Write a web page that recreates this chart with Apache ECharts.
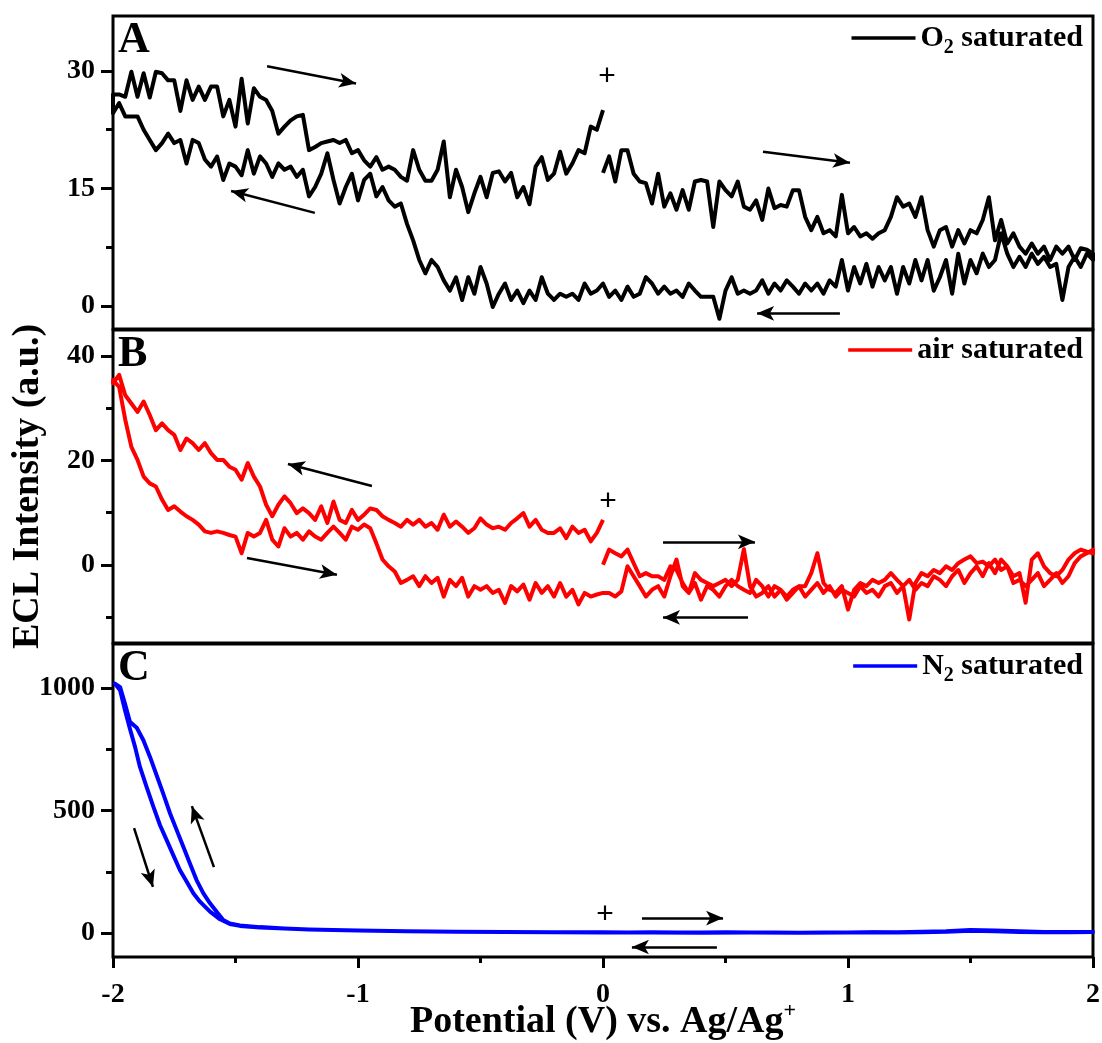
<!DOCTYPE html>
<html>
<head>
<meta charset="utf-8">
<script src="https://cdn.jsdelivr.net/npm/echarts@6/dist/echarts.min.js"></script>
<style>
  html, body { margin: 0; padding: 0; background: #fff; }
  #chart { width: 1102px; height: 1043px; }
</style>
</head>
<body>
<div id="chart"></div>
<script>
// ECL intensity recorded during cyclic potential sweeps (V vs. Ag/Ag+).
// Panels A and B are sampled every 0.025 V along each sweep segment.
const SCAN_STEP = 0.025;

// ---- A: O2 saturated ----
// 0 V -> +2 V
const o2SweepUp = [
  17.0, 19.1, 15.9, 19.9, 19.9, 16.9, 15.9, 15.7, 13.1, 16.9,
  12.7, 14.4, 12.3, 14.8, 12.3, 15.9, 16.1, 15.9, 10.1, 15.9,
  14.8, 14.0, 15.9, 12.7, 12.3, 13.5, 11.0, 15.0, 12.5, 12.9,
  12.7, 14.8, 14.8, 11.4, 9.7, 11.4, 9.3, 9.7, 8.9, 14.2,
  9.3, 10.1, 8.9, 9.3, 8.6, 9.3, 9.7, 11.4, 13.9, 12.7,
  13.1, 11.4, 13.9, 9.7, 7.6, 9.7, 10.1, 7.6, 9.7, 8.0,
  9.7, 9.3, 11.0, 13.9, 8.4, 11.0, 8.0, 9.3, 7.6, 6.7,
  8.0, 6.7, 7.6, 5.9, 7.6, 6.7, 7.6, 5.9, 7.4, 7.2,
  6.7
];
// +2 V -> -2 V
const o2SweepDown = [
  5.9, 6.7, 5.0, 6.3, 5.0, 0.8, 5.4, 5.0, 6.3, 5.4,
  6.7, 5.0, 6.3, 5.0, 6.7, 9.3, 5.9, 5.0, 6.7, 4.2,
  5.9, 2.9, 6.7, 1.6, 5.9, 3.7, 2.0, 5.9, 3.3, 5.9,
  2.9, 5.0, 1.6, 5.0, 3.3, 5.0, 2.5, 5.4, 2.9, 5.0,
  2.0, 5.9, 2.5, 3.3, 1.6, 2.9, 2.0, 2.9, 1.6, 2.5,
  3.3, 2.0, 2.9, 1.6, 3.3, 2.0, 1.6, 2.0, 1.6, 3.7,
  2.0, -1.6, 1.2, 1.2, 1.2, 2.0, 2.9, 1.2, 2.0, 1.6,
  2.5, 1.6, 2.9, 3.7, 1.6, 1.2, 2.5, 0.8, 2.0, 1.2,
  2.9, 2.0, 1.6, 2.9, 0.8, 1.6, 1.2, 1.6, 0.8, 1.6,
  3.7, 0.8, 2.0, 0.4, 2.0, 0.8, 2.9, 1.6, -0.1, 2.9,
  5.0, 1.6, 3.7, 0.8, 3.7, 2.0, 3.3, 5.0, 5.9, 4.2,
  5.9, 8.4, 10.5, 13.1, 12.7, 13.5, 15.2, 14.0, 16.9, 16.1,
  13.5, 16.9, 15.2, 13.1, 16.1, 19.5, 16.9, 15.2, 14.0, 17.4,
  16.5, 17.8, 17.4, 18.2, 16.5, 18.2, 19.1, 16.9, 19.9, 16.7,
  17.8, 18.2, 16.1, 19.1, 17.8, 18.7, 20.8, 21.2, 18.2, 21.2,
  20.8, 22.0, 20.8, 19.9, 21.2, 22.5, 24.2, 24.2, 24.2, 25.9,
  24.6
];
// -2 V -> 0 V
const o2SweepBack = [
  27.0, 27.0, 26.7, 29.9, 26.7, 29.7, 26.6, 29.9, 29.7, 28.8,
  28.8, 24.9, 28.8, 26.3, 28.0, 26.3, 28.0, 28.0, 24.2, 26.3,
  22.9, 29.0, 23.3, 27.8, 26.7, 26.3, 24.9, 22.0, 22.9, 23.7,
  24.2, 24.4, 19.9, 20.3, 20.8, 21.0, 21.2, 20.8, 21.2, 19.5,
  19.9, 18.6, 17.8, 19.0, 17.4, 17.8, 17.4, 16.5, 16.0, 19.9,
  17.4, 16.0, 16.0, 17.4, 21.0, 13.9, 17.4, 15.2, 12.0, 14.4,
  16.5, 13.9, 17.0, 17.2, 15.9, 17.0, 13.9, 15.2, 13.0, 17.8,
  19.0, 16.1, 16.9, 19.7, 16.9, 18.2, 19.9, 19.5, 22.9, 22.5,
  25.0
];

// ---- B: air saturated ----
// 0 V -> -2 V
const airSweepDown = [
  8.6, 6.1, 4.5, 6.7, 6.1, 7.3, 5.1, 7.0, 6.1, 6.1,
  6.7, 8.6, 7.3, 9.9, 8.9, 8.0, 6.7, 7.3, 7.0, 7.7,
  8.9, 7.0, 6.1, 7.3, 8.3, 7.3, 9.6, 6.7, 8.0, 7.3,
  8.6, 7.7, 8.6, 7.3, 8.0, 8.6, 9.3, 10.5, 10.8, 9.6,
  8.6, 10.5, 8.0, 8.6, 12.1, 8.0, 11.2, 8.6, 9.9, 10.8,
  9.9, 11.8, 13.1, 11.5, 9.3, 11.5, 15.0, 16.9, 19.5, 16.3,
  18.2, 18.8, 20.1, 20.1, 21.4, 23.3, 22.0, 23.3, 24.2, 22.0,
  24.9, 25.8, 27.1, 25.8, 28.7, 31.3, 29.3, 30.9, 32.5, 36.4,
  34.8
];
// -2 V -> +2 V
const airSweepUp = [
  35.4, 34.1, 27.8, 22.6, 20.1, 16.9, 15.6, 15.0, 12.5, 10.5,
  11.2, 10.2, 9.3, 8.6, 7.7, 6.4, 6.1, 6.4, 6.1, 5.7,
  5.4, 2.2, 6.1, 5.4, 6.1, 8.6, 4.8, 3.5, 7.0, 5.4,
  6.1, 4.8, 6.4, 5.4, 4.8, 6.1, 7.3, 6.1, 4.8, 7.3,
  6.7, 7.7, 7.0, 4.1, 1.0, -0.3, -1.3, -3.5, -2.9, -2.2,
  -4.1, -2.2, -3.5, -2.5, -6.1, -2.9, -4.1, -2.5, -6.1, -4.1,
  -4.8, -4.1, -5.4, -4.8, -7.3, -4.1, -5.1, -3.8, -6.7, -3.5,
  -5.4, -4.1, -6.1, -3.5, -6.1, -4.8, -7.6, -5.4, -6.1, -5.7,
  -5.4, -5.4, -6.1, -5.1, -0.3, -2.2, -4.1, -6.1, -4.8, -4.1,
  -6.1, -2.2, 1.0, -4.1, -5.4, -3.5, -6.7, -4.1, -4.8, -6.1,
  -4.1, -2.9, -4.1, -4.8, -5.4, -2.9, -4.1, -6.1, -4.1, -4.8,
  -6.1, -4.8, -4.1, -4.1, -1.6, 2.2, -3.5, -4.8, -5.4, -4.1,
  -8.6, -4.8, -3.5, -4.1, -2.9, -3.5, -2.9, -1.6, -2.9, -4.1,
  -10.5, -3.5, -1.6, -2.2, -1.0, -1.6, -0.3, -1.0, 0.3, 1.0,
  1.6, 0.3, 0.6, -0.3, 1.0, -1.0, -0.3, -2.2, -1.6, -7.3,
  1.0, 2.2, -0.3, -1.6, -2.2, -1.0, 1.0, 2.2, 2.9, 2.5,
  2.2
];
// +2 V -> 0 V
const airSweepBack = [
  2.9, 2.2, 1.6, 0.3, -2.2, -3.5, -1.6, -2.9, -4.1, -1.6,
  -2.9, -4.1, -2.9, -3.5, -0.3, 1.0, -1.6, 0.3, -2.2, -0.3,
  -1.6, -3.5, -1.0, -2.2, -4.1, -2.9, -2.2, -4.1, -3.5, -4.8,
  -2.9, -4.1, -5.4, -3.5, -4.1, -6.1, -4.8, -5.4, -4.1, -6.1,
  -5.4, -4.8, -6.1, -4.1, -5.4, -3.5, -4.8, -6.1, -4.1, -5.4,
  -6.7, -4.8, -6.1, -4.1, -5.4, -6.1, -4.1, 3.0, -2.9, -4.1,
  -2.9, -3.5, -4.1, -3.5, -2.9, -1.6, -5.4, -3.5, -1.0, -0.3,
  -2.9, -2.2, -2.2, -1.6, -2.2, 0.3, 2.9, 1.6, 2.2, 2.9,
  0.0
];

// ---- C: N2 saturated (smooth, sampled at the listed potentials) ----
const n2UpPotential = [0.0, 0.1, 0.2, 0.3, 0.4, 0.5, 0.6, 0.7, 0.8, 0.9, 1.0,
  1.1, 1.2, 1.3, 1.4, 1.5, 1.6, 1.7, 1.8, 1.9, 2.0];
const n2UpIntensity = [3, 2, 3, 2, 2, 3, 2, 2, 1, 2, 2,
  3, 2, 3, 5, 9, 7, 4, 3, 3, 4];
const n2DownPotential = [2.0, 1.8, 1.6, 1.5, 1.4, 1.2, 1.0, 0.8, 0.6, 0.4,
  0.2, 0.0, -0.2, -0.4, -0.6, -0.8, -1.0, -1.2, -1.3, -1.4,
  -1.482, -1.523, -1.550, -1.577, -1.604, -1.631, -1.659, -1.686, -1.713, -1.740,
  -1.767, -1.795, -1.822, -1.849, -1.876, -1.903, -1.931, -1.951, -1.971, -1.992,
  -2.0];
const n2DownIntensity = [3, 4, 10, 12, 7, 3, 2, 1, 2, 1,
  2, 2, 3, 4, 5, 7, 10, 14, 18, 24,
  31, 39, 53, 87, 121, 162, 216, 284, 352, 420,
  488, 569, 644, 719, 787, 838, 862, 936, 1004, 1018,
  1015];
const n2BackPotential = [-2.0, -1.992, -1.971, -1.951, -1.931, -1.910, -1.890, -1.863, -1.835, -1.808,
  -1.781, -1.754, -1.727, -1.699, -1.672, -1.645, -1.604, -1.563, -1.523, -1.482,
  -1.4, -1.2, -1.0, -0.8, -0.6, -0.4, -0.2, 0.0];
const n2BackIntensity = [1015, 1011, 991, 909, 834, 760, 678, 597, 515, 440,
  379, 318, 257, 209, 162, 128, 87, 56, 37, 29,
  22, 14, 10, 7, 5, 4, 3, 3];

// Axis ticks
const potentialRange = [-2, 2];
const panelRanges = [[-2.9, 37], [-15, 45], [-98, 1180]];
const majorTicks = [[0, 15, 30], [0, 20, 40], [0, 500, 1000]];
const minorTicks = [[7.5, 22.5], [-10, 10, 30], [250, 750]];

// Series names and colours
const seriesNames = ['O2 saturated', 'air saturated', 'N2 saturated'];
const seriesColors = ['#000000', '#ff0000', '#0000ff'];
const panelLetters = ['A', 'B', 'C'];

// Sweep-direction arrows [[V1, I1], [V2, I2]] (tail -> head) and start markers
const arrows = [
  [[[-1.371, 30.6], [-1.008, 28.4]], [[-1.176, 11.9], [-1.518, 14.7]],
   [[0.653, 19.7], [1.008, 18.3]], [[0.967, -0.9], [0.629, -0.9]]],
  [[[-0.943, 15.1], [-1.286, 19.3]], [[-1.453, 1.3], [-1.086, -1.9]],
   [[0.245, 4.4], [0.620, 4.4]], [[0.592, -10.1], [0.245, -10.1]]],
  [[[-1.914, 428], [-1.837, 188]], [[-1.588, 269], [-1.678, 518]],
   [[0.159, 61], [0.490, 61]], [[0.465, -57], [0.118, -57]]]
];
const startMarks = [[0.016, 29.2], [0.02, 12], [0.008, 73]];

function sweep(start, dir, values) {
  return values.map((v, i) => [+(start + dir * SCAN_STEP * i).toFixed(4), v]);
}
function zip(xs, ys) {
  return xs.map((x, i) => [x, ys[i]]);
}

const panelData = [
  [].concat(sweep(0, 1, o2SweepUp), sweep(2, -1, o2SweepDown), sweep(-2, 1, o2SweepBack)),
  [].concat(sweep(0, -1, airSweepDown), sweep(-2, 1, airSweepUp), sweep(2, -1, airSweepBack)),
  [].concat(zip(n2UpPotential, n2UpIntensity), zip(n2DownPotential, n2DownIntensity),
            zip(n2BackPotential, n2BackIntensity))
];

const SERIF = '"Liberation Serif", "Times New Roman", serif';
const GRID_LEFT = 113, GRID_RIGHT = 9, PANEL_H = 313;
const gridTops = [16, 330, 644];
const legendTops = [23, 335, 651];

const grids = gridTops.map(t => ({
  left: GRID_LEFT, right: GRID_RIGHT, top: t, height: PANEL_H,
  outerBoundsMode: 'none', containLabel: false,
  show: true, borderColor: '#000', borderWidth: 3, backgroundColor: 'transparent'
}));

const xAxes = [0, 1, 2].map(i => ({
  type: 'value', gridIndex: i, position: 'bottom',
  min: potentialRange[0], max: potentialRange[1], interval: 1,
  axisLine: { show: false, onZero: false },
  splitLine: { show: false },
  axisTick: { show: i === 2, length: 11, lineStyle: { color: '#000', width: 3 } },
  minorTick: { show: i === 2, splitNumber: 2, length: 6, lineStyle: { color: '#000', width: 3 } },
  axisLabel: {
    show: i === 2, margin: 24, color: '#000',
    fontFamily: SERIF, fontWeight: 'bold', fontSize: 28
  },
  name: i === 2 ? '{t|Potential (V) vs. Ag/Ag}{sup|+}' : '',
  nameLocation: 'middle', nameGap: 43, nameMoveOverlap: false,
  nameTextStyle: {
    rich: {
      t: { fontFamily: SERIF, fontWeight: 'bold', fontSize: 38, lineHeight: 44, color: '#000' },
      sup: { fontFamily: SERIF, fontWeight: 'bold', fontSize: 22, lineHeight: 22,
             verticalAlign: 'top', color: '#000' }
    }
  }
}));

const yAxes = [];
[0, 1, 2].forEach(i => {
  yAxes.push({
    type: 'value', gridIndex: i, position: 'left', offset: 0,
    min: panelRanges[i][0], max: panelRanges[i][1],
    axisLine: { show: false, onZero: false },
    splitLine: { show: false },
    axisTick: { show: true, length: 12, customValues: majorTicks[i],
                lineStyle: { color: '#000', width: 3 } },
    axisLabel: { show: true, customValues: majorTicks[i], margin: 18, color: '#000',
                 fontFamily: SERIF, fontWeight: 'bold', fontSize: 28,
                 formatter: v => String(v) },
    name: i === 1 ? 'ECL Intensity (a.u.)' : '',
    nameLocation: 'middle', nameGap: 66,
    nameTextStyle: { fontFamily: SERIF, fontWeight: 'bold', fontSize: 38, color: '#000' }
  });
  yAxes.push({
    type: 'value', gridIndex: i, position: 'left', offset: 0,
    min: panelRanges[i][0], max: panelRanges[i][1],
    axisLine: { show: false, onZero: false },
    splitLine: { show: false },
    axisTick: { show: true, length: 7, customValues: minorTicks[i],
                lineStyle: { color: '#000', width: 3 } },
    axisLabel: { show: false }
  });
});

const series = [0, 1, 2].map(i => ({
  name: seriesNames[i],
  type: 'line',
  xAxisIndex: i,
  yAxisIndex: i * 2,
  data: panelData[i],
  showSymbol: false,
  symbol: 'none',
  color: seriesColors[i],
  lineStyle: { width: 4, color: seriesColors[i], join: 'round' },
  animation: false,
  silent: true,
  markLine: {
    silent: true,
    animation: false,
    symbol: ['none', 'arrow'],
    symbolSize: [11, 17],
    label: { show: false },
    lineStyle: { color: '#000', width: 2.5, type: 'solid' },
    itemStyle: { color: '#000' },
    emphasis: { disabled: true },
    data: arrows[i].map(a => [{ coord: a[0] }, { coord: a[1] }])
  },
  markPoint: {
    silent: true,
    animation: false,
    symbol: 'circle',
    symbolSize: 1,
    itemStyle: { color: 'rgba(0,0,0,0)' },
    label: {
      show: true, position: 'inside', formatter: '+', color: '#000',
      fontFamily: '"Liberation Sans", Arial, sans-serif', fontSize: 30
    },
    data: [{ coord: startMarks[i] }]
  }
}));

function legendLabel(name) {
  if (name === 'O2 saturated') return '{b|O}{s|2}{b| saturated}';
  if (name === 'N2 saturated') return '{b|N}{s|2}{b| saturated}';
  return '{b|' + name + '}';
}

const legends = [0, 1, 2].map(i => ({
  data: [seriesNames[i]],
  right: 19, top: legendTops[i], padding: 0,
  icon: 'rect', itemWidth: 64, itemHeight: 3.5,
  selectedMode: false,
  formatter: legendLabel,
  textStyle: {
    rich: {
      b: { fontFamily: SERIF, fontWeight: 'bold', fontSize: 30, lineHeight: 40,
           verticalAlign: 'middle', color: '#000' },
      s: { fontFamily: SERIF, fontWeight: 'bold', fontSize: 20, lineHeight: 20,
           verticalAlign: 'bottom', color: '#000' }
    }
  }
}));

const titles = [0, 1, 2].map(i => ({
  text: panelLetters[i],
  left: 118, top: gridTops[i] + 3, padding: 0,
  textStyle: { fontFamily: SERIF, fontWeight: 'bold', fontSize: 44, color: '#000' }
}));

const chart = echarts.init(document.getElementById('chart'), null, { renderer: 'canvas' });
chart.setOption({
  backgroundColor: '#fff',
  animation: false,
  title: titles,
  legend: legends,
  grid: grids,
  xAxis: xAxes,
  yAxis: yAxes,
  series: series
});
</script>
</body>
</html>
